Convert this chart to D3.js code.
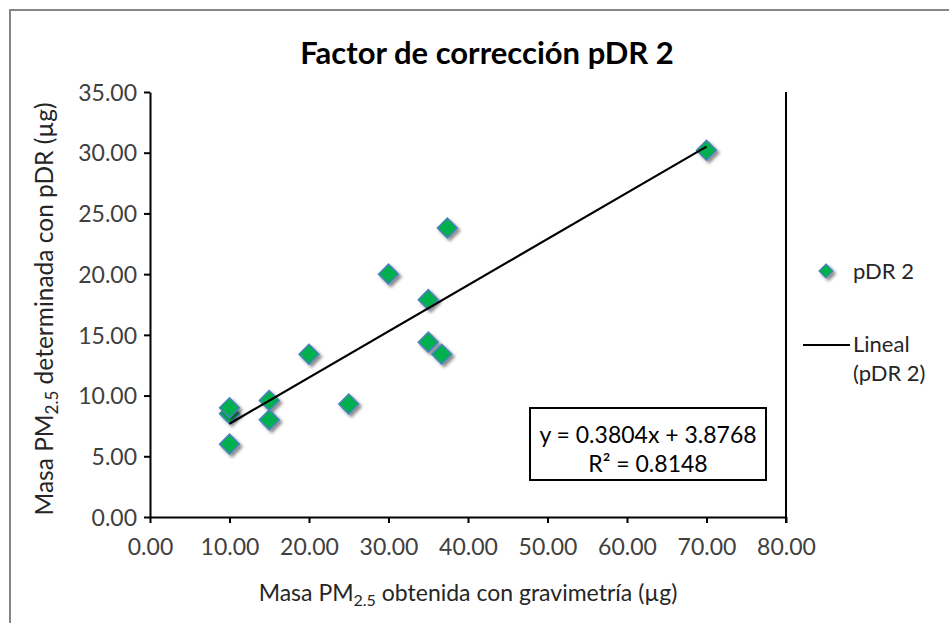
<!DOCTYPE html>
<html>
<head>
<meta charset="utf-8">
<script src="https://cdn.jsdelivr.net/npm/d3@7"></script>
<style>
  html, body { margin: 0; padding: 0; background: #fff; }
  svg { display: block; font-family: Lato, "Open Sans", sans-serif; }
</style>
</head>
<body>
<svg id="chart" width="949" height="623"></svg>
<script>
// ---- data ----
const title = "Factor de corrección pDR 2";
const seriesName = "pDR 2";
const trendName = ["Lineal", "(pDR 2)"];
const xValues = [10, 10, 10, 15, 15, 20, 25, 30, 35, 35, 36.7, 37.4, 70];
const yValues = [6.0, 8.5, 9.0, 9.6, 8.0, 13.4, 9.3, 20.0, 17.9, 14.4, 13.4, 23.8, 30.2];
const xTicks = [0, 10, 20, 30, 40, 50, 60, 70, 80];
const yTicks = [0, 5, 10, 15, 20, 25, 30, 35];
const slope = 0.3804;
const intercept = 3.8768;
const equationLines = ["y = 0.3804x + 3.8768", "R² = 0.8148"];

// ---- layout ----
const svg = d3.select("#chart");
const plot = { left: 150, right: 786, top: 92, bottom: 517 };
const FS = 23;

const x = d3.scaleLinear().domain([0, 80]).range([plot.left, plot.right]);
const y = d3.scaleLinear().domain([0, 35]).range([plot.bottom, plot.top]);

// outer chart border
svg.append("rect")
  .attr("x", 10).attr("y", 10).attr("width", 1000).attr("height", 700)
  .attr("fill", "#fff").attr("stroke", "#868686").attr("stroke-width", 2);

// drop-shadow filter for markers
const defs = svg.append("defs");
const f = defs.append("filter").attr("id", "shadow")
  .attr("x", "-50%").attr("y", "-50%").attr("width", "200%").attr("height", "200%");
f.append("feDropShadow").attr("dx", 2.5).attr("dy", 2.5).attr("stdDeviation", 1.6)
  .attr("flood-color", "#000").attr("flood-opacity", 0.45);

// title
svg.append("text")
  .attr("x", 487).attr("y", 64)
  .attr("text-anchor", "middle")
  .attr("font-size", 31).attr("font-weight", "bold").attr("fill", "#000")
  .text(title);

// axes
const tickFmt = d3.format(".2f");
const xAxis = d3.axisBottom(x).tickValues(xTicks).tickFormat(tickFmt).tickSizeInner(6).tickSizeOuter(0).tickPadding(16);
const yAxis = d3.axisLeft(y).tickValues(yTicks).tickFormat(tickFmt).tickSizeInner(6).tickSizeOuter(0).tickPadding(7);

const gx = svg.append("g").attr("transform", `translate(0,${plot.bottom})`).call(xAxis);
const gy = svg.append("g").attr("transform", `translate(${plot.left},0)`).call(yAxis);
[gx, gy].forEach(g => {
  g.select(".domain").attr("stroke", "#000").attr("stroke-width", 2);
  g.selectAll(".tick line").attr("stroke", "#000").attr("stroke-width", 2);
  g.selectAll(".tick text").attr("font-size", FS).attr("fill", "#404040")
    .attr("font-family", "Lato, 'Open Sans', sans-serif");
});
gy.selectAll(".tick text").attr("dy", "0.36em");

// right plot border
svg.append("line")
  .attr("x1", plot.right).attr("x2", plot.right)
  .attr("y1", plot.top).attr("y2", plot.bottom + 6)
  .attr("stroke", "#000").attr("stroke-width", 2);

// axis titles
const xt = svg.append("text")
  .attr("x", 468).attr("y", 601).attr("text-anchor", "middle")
  .attr("font-size", FS).attr("fill", "#262626");
xt.append("tspan").text("Masa PM");
xt.append("tspan").attr("font-size", 16).attr("dy", 5).text("2.5");
xt.append("tspan").attr("dy", -5).text(" obtenida con gravimetría (µg)");

const yt = svg.append("text")
  .attr("transform", "translate(53,309) rotate(-90)")
  .attr("text-anchor", "middle")
  .attr("font-size", 24.5).attr("fill", "#262626");
yt.append("tspan").text("Masa PM");
yt.append("tspan").attr("font-size", 17).attr("dy", 5).text("2.5");
yt.append("tspan").attr("dy", -5).text(" determinada con pDR (µg)");

// markers
const pts = xValues.map((v, i) => ({ x: v, y: yValues[i] }));
function diamondPath(cx, cy, r) {
  return `M${cx},${cy - r}L${cx + r},${cy}L${cx},${cy + r}L${cx - r},${cy}Z`;
}
svg.append("g").selectAll("path").data(pts).join("path")
  .attr("d", d => diamondPath(x(d.x), y(d.y), 10))
  .attr("fill", "#00B050").attr("stroke", "#4F81BD").attr("stroke-width", 1.5)
  .attr("filter", "url(#shadow)");

// trendline
const xMin = d3.min(xValues), xMax = d3.max(xValues);
svg.append("line")
  .attr("x1", x(xMin)).attr("y1", y(slope * xMin + intercept))
  .attr("x2", x(xMax)).attr("y2", y(slope * xMax + intercept))
  .attr("stroke", "#000").attr("stroke-width", 2.2);

// equation box
svg.append("rect")
  .attr("x", 530).attr("y", 408).attr("width", 236).attr("height", 72)
  .attr("fill", "#fff").attr("stroke", "#000").attr("stroke-width", 2);
svg.append("g").selectAll("text").data(equationLines).join("text")
  .attr("x", 648).attr("y", (d, i) => 443 + i * 29)
  .attr("text-anchor", "middle").attr("font-size", FS).attr("fill", "#000")
  .text(d => d);

// legend
const lg = svg.append("g");
lg.append("path").attr("d", diamondPath(826, 271, 7))
  .attr("fill", "#00B050").attr("stroke", "#4F81BD").attr("stroke-width", 1.2)
  .attr("filter", "url(#shadow)");
lg.append("text").attr("x", 853).attr("y", 279).attr("font-size", 22).attr("fill", "#262626").text(seriesName);
lg.append("line").attr("x1", 803).attr("x2", 850).attr("y1", 345).attr("y2", 345)
  .attr("stroke", "#000").attr("stroke-width", 2);
lg.append("text").attr("x", 853).attr("y", 352).attr("font-size", 22).attr("fill", "#262626").text(trendName[0]);
lg.append("text").attr("x", 853).attr("y", 381).attr("font-size", 22).attr("fill", "#262626").text(trendName[1]);
</script>
</body>
</html>
